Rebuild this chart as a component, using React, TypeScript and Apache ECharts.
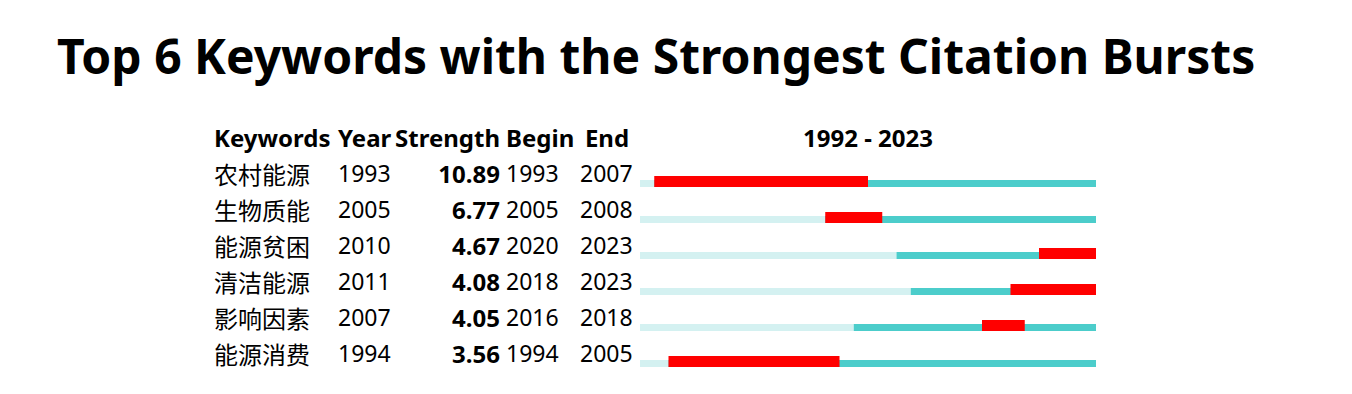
import React, { useEffect, useRef } from "react";
import * as echarts from "echarts";

const keywords = ["农村能源", "生物质能", "能源贫困", "清洁能源", "影响因素", "能源消费"];
const years = [1993, 2005, 2010, 2011, 2007, 1994];
const strengths = ["10.89", "6.77", "4.67", "4.08", "4.05", "3.56"];
const begins = [1993, 2005, 2020, 2018, 2016, 1994];
const ends = [2007, 2008, 2023, 2023, 2018, 2005];
const headers = ["Keywords", "Year", "Strength", "Begin", "End"];
const rangeStart = 1992;
const rangeEnd = 2023;
const titleText = "Top 6 Keywords with the Strongest Citation Bursts";

const LIGHT = "#d4f1f1";
const TEAL = "#4ccdcb";
const RED = "#ff0000";
const FONT_FAMILY = "'Noto Sans', 'Noto Sans CJK SC', sans-serif";
const CJK_FONT = "'Noto Sans CJK SC', 'Noto Sans', sans-serif";

export default function App() {
  const ref = useRef<HTMLDivElement>(null);
  useEffect(() => {
    if (!ref.current) return;
    const chart = echarts.init(ref.current, null, { renderer: "svg" });
    const rows = keywords.map((k, i) => [i + 1, years[i], begins[i], ends[i]]);
    const txt = (text: string, x: number, y: number, size: number, bold: boolean, align: string, family = FONT_FAMILY) => ({
      type: "text",
      style: {
        text,
        x,
        y,
        font: `${bold ? "bold " : ""}${size}px ${family}`,
        fill: "#000",
        textAlign: align,
        textVerticalAlign: "middle",
        align,
        verticalAlign: "middle",
      },
    });
    const option: any = {
      animation: false,
      backgroundColor: "#fff",
      grid: { left: 640, width: 456, top: 119, height: 252 },
      xAxis: { type: "value", min: rangeStart, max: rangeEnd + 1, show: false },
      yAxis: { type: "value", min: -0.5, max: 6.5, inverse: true, show: false },
      graphic: [
        {
          type: "text",
          left: 57,
          top: 31,
          style: { text: titleText, font: `bold 48px ${FONT_FAMILY}`, fill: "#000" },
        },
      ],
      series: [
        {
          type: "custom",
          data: rows,
          renderItem: (params: any, api: any) => {
            const row = api.value(0);
            const i = row - 1;
            const appear = api.value(1);
            const b = api.value(2);
            const e = api.value(3);
            const [xs, yc] = api.coord([rangeStart, row]);
            const xa = api.coord([appear, row])[0];
            const xb = api.coord([b, row])[0];
            const xe = api.coord([e + 1, row])[0];
            const xend = api.coord([rangeEnd + 1, row])[0];
            const bottom = yc + 14;
            const children: any[] = [
              { type: "rect", shape: { x: xs, y: bottom - 7, width: xa - xs, height: 7 }, style: { fill: LIGHT } },
              { type: "rect", shape: { x: xa, y: bottom - 7, width: xend - xa, height: 7 }, style: { fill: TEAL } },
              { type: "rect", shape: { x: xb, y: bottom - 11, width: xe - xb, height: 11 }, style: { fill: RED } },
              txt(keywords[i], 214, yc, 24, false, "left", CJK_FONT),
              txt(String(years[i]), 338, yc, 23, false, "left"),
              txt(strengths[i], 500, yc, 24, true, "right"),
              txt(String(begins[i]), 506, yc, 23, false, "left"),
              txt(String(ends[i]), 580, yc, 23, false, "left"),
            ];
            if (i === 0) {
              const hy = api.coord([rangeStart, 0])[1];
              children.push(txt(headers[0], 214, hy, 24, true, "left"));
              children.push(txt(headers[1], 338, hy, 24, true, "left"));
              children.push(txt(headers[2], 500, hy, 24, true, "right"));
              children.push(txt(headers[3], 506, hy, 24, true, "left"));
              children.push(txt(headers[4], 607, hy, 24, true, "center"));
              children.push(txt(`${rangeStart} - ${rangeEnd}`, (xs + xend) / 2, hy, 24, true, "center"));
            }
            return { type: "group", children };
          },
        },
      ],
    };
    chart.setOption(option);
    return () => chart.dispose();
  }, []);
  return <div ref={ref} style={{ position: "absolute", left: 0, top: 0, width: 1352, height: 394 }} />;
}
